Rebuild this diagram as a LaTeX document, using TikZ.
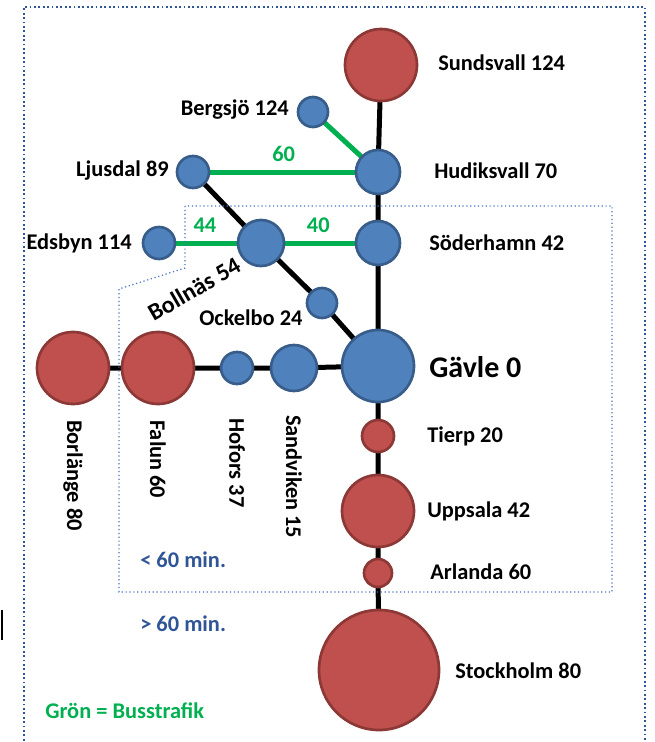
\documentclass[tikz,border=0pt]{standalone}
\usepackage{fontspec}
\setmainfont{Carlito}
\usetikzlibrary{backgrounds}
\definecolor{bfill}{RGB}{79,129,189}
\definecolor{bdraw}{RGB}{56,93,138}
\definecolor{rfill}{RGB}{192,80,77}
\definecolor{rdraw}{RGB}{140,56,54}
\definecolor{gline}{RGB}{0,176,80}
\definecolor{dblue}{RGB}{47,85,151}
\definecolor{lblue}{RGB}{68,114,196}
\tikzset{
  stn/.style={circle, inner sep=0pt, outer sep=0pt, line width=2pt, minimum size=#1*1.5pt},
  blue/.style={stn=#1, fill=bfill, draw=bdraw},
  red/.style={stn=#1, fill=rfill, draw=rdraw},
  rail/.style={line width=3.75pt, black},
  bus/.style={line width=3.75pt, gline},
  lbl/.style={font=\bfseries\fontsize{16.8}{18}\selectfont, inner sep=0pt},
  glbl/.style={lbl, text=gline},
  blbl/.style={lbl, text=dblue},
}
\begin{document}
\begin{tikzpicture}[x=0.75pt, y=-0.75pt]
\useasboundingbox (0,0) rectangle (654,742);
% frames
\draw[dblue, line width=1.3pt, dotted] (24,745) -- (24,7) -- (645,7) -- (645,745);
\draw[lblue, line width=0.9pt, dotted] (185,206) -- (185,268) -- (119,289) -- (119,592) -- (612,592) -- (612,206) -- cycle;
\draw[black, line width=0.8pt] (2,610) -- (2,640);
% stations
\node[red=36]  (sun) at (381,65) {};
\node[blue=22] (hud) at (378,172) {};
\node[blue=15] (ber) at (313,112) {};
\node[blue=16] (lju) at (193,172) {};
\node[blue=16] (eds) at (159,243) {};
\node[blue=23] (bol) at (261,243) {};
\node[blue=22] (sod) at (378,243) {};
\node[blue=15] (ock) at (322,303) {};
\node[blue=36] (gav) at (378,366) {};
\node[red=16]  (tie) at (378,436) {};
\node[red=36]  (upp) at (378,511) {};
\node[red=14]  (arl) at (378,573) {};
\node[red=60]  (sto) at (379,670) {};
\node[red=36]  (bor) at (73,368) {};
\node[red=36]  (fal) at (158,368) {};
\node[blue=16] (hof) at (237,368) {};
\node[blue=23] (san) at (294,368) {};
% connectors
\begin{pgfonlayer}{background}
\draw[rail] (sun.center) -- (hud.center) -- (sod.center) -- (gav.center) -- (tie.center) -- (upp.center) -- (arl.center) -- (sto.center);
\draw[rail] (lju.center) -- (bol.center) -- (ock.center) -- (gav.center);
\draw[rail] (bor.center) -- (fal.center) -- (hof.center) -- (san.center) -- (gav.center);
\draw[bus] (ber.center) -- (hud.center);
\draw[bus] (lju.center) -- node[glbl, above=6pt, pos=0.49] (l60) {60} (hud.center);
\draw[bus] (eds.center) -- node[glbl, above=6pt, pos=0.45] (l44) {44} (bol.center);
\draw[bus] (bol.center) -- node[glbl, above=6pt, pos=0.49] (l40) {40} (sod.center);
\end{pgfonlayer}
% labels
\node[lbl, anchor=west] (tsun) at (438,63) {Sundsvall 124};
\node[lbl, anchor=east] (tber) at (289,110) {Bergsjö 124};
\node[lbl, anchor=east] (tlju) at (169,171) {Ljusdal 89};
\node[lbl, anchor=west] (thud) at (434,171) {Hudiksvall 70};
\node[lbl, anchor=east] (teds) at (132,243) {Edsbyn 114};
\node[lbl, anchor=west] (tsod) at (429,243) {Söderhamn 42};
\node[lbl, rotate=30, font=\bfseries\fontsize{18}{19}\selectfont] (tbol) at (194,289) {Bollnäs 54};
\node[lbl, anchor=west] (tock) at (199,318) {Ockelbo 24};
\node[lbl, anchor=west, font=\bfseries\fontsize{22.5}{24}\selectfont] (tgav) at (429,367) {Gävle 0};
\node[lbl, anchor=west] (ttie) at (427,436) {Tierp 20};
\node[lbl, anchor=west] (tupp) at (427,511) {Uppsala 42};
\node[lbl, anchor=west] (tarl) at (430,572) {Arlanda 60};
\node[lbl, anchor=west] (tsto) at (455,671) {Stockholm 80};
\node[lbl, anchor=west, rotate=-90] (tbor) at (73,420) {Borlänge 80};
\node[lbl, anchor=west, rotate=-90] (tfal) at (158,420) {Falun 60};
\node[lbl, anchor=west, rotate=-90] (thof) at (237,418) {Hofors 37};
\node[lbl, anchor=west, rotate=-90] (tsan) at (294,415) {Sandviken 15};
\node[blbl, anchor=west] (tlt) at (140,560) {< 60 min.};
\node[blbl, anchor=west] (tgt) at (140,624) {> 60 min.};
\node[glbl, anchor=west] (tgr) at (45,711) {Grön = Busstrafik};
\end{tikzpicture}
\end{document}
